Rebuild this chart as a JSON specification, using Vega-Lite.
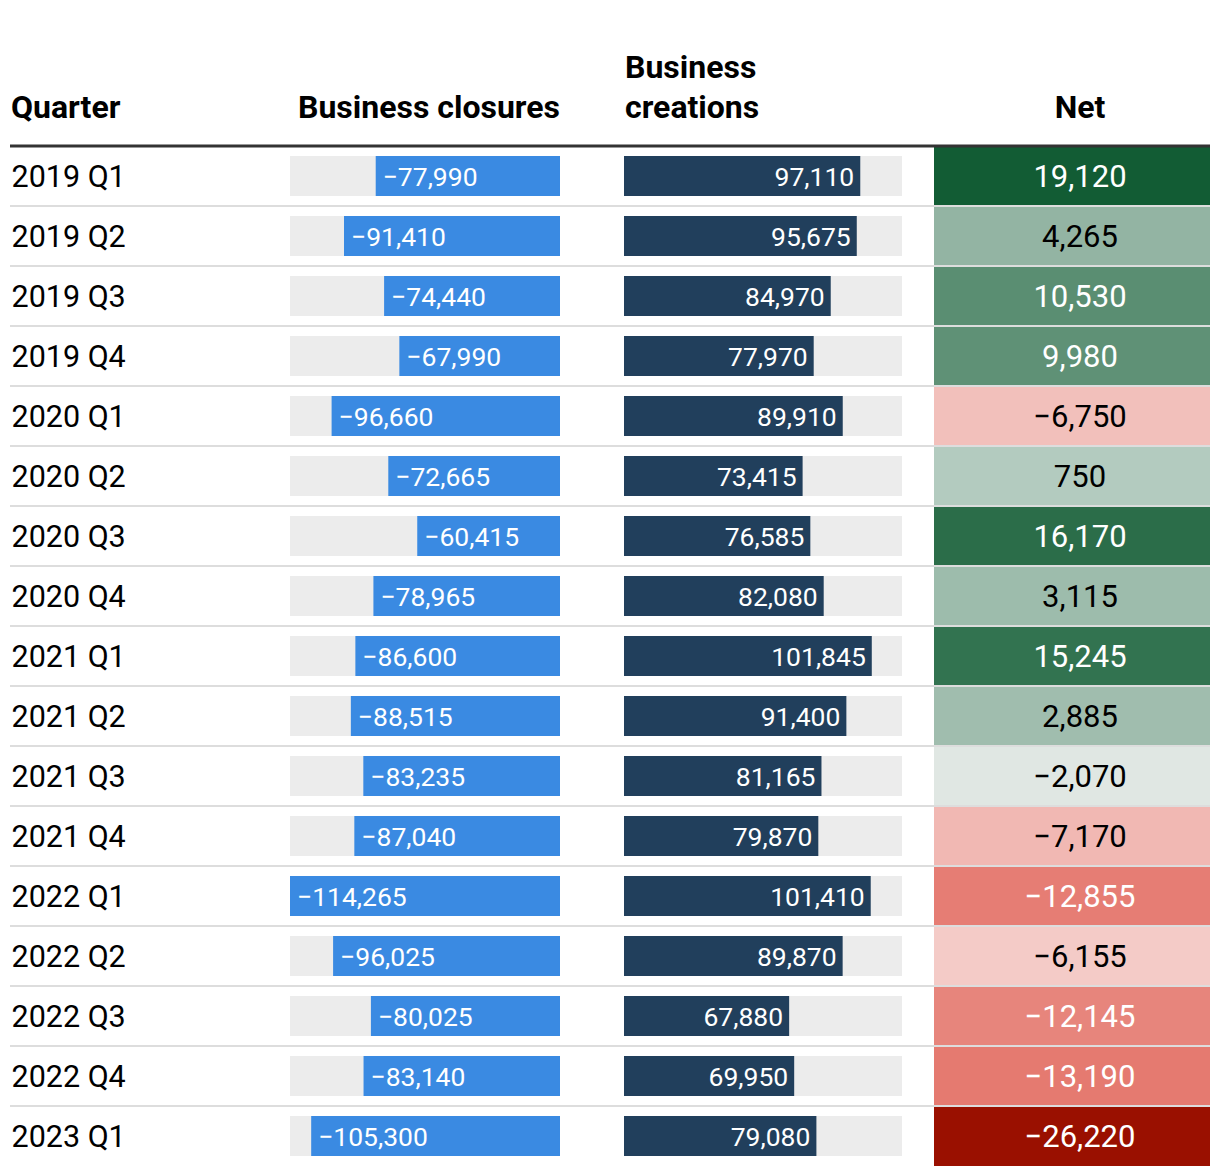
{
  "$schema": "https://vega.github.io/schema/vega-lite/v6.json",
  "padding": {"left": 8, "right": 10, "top": 51, "bottom": 9},
  "background": "white",
  "spacing": 0,
  "bounds": "flush",
  "data": {"values": [
    {"quarter": "2019 Q1", "closures": -77990, "creations": 97110, "net": 19120},
    {"quarter": "2019 Q2", "closures": -91410, "creations": 95675, "net": 4265},
    {"quarter": "2019 Q3", "closures": -74440, "creations": 84970, "net": 10530},
    {"quarter": "2019 Q4", "closures": -67990, "creations": 77970, "net": 9980},
    {"quarter": "2020 Q1", "closures": -96660, "creations": 89910, "net": -6750},
    {"quarter": "2020 Q2", "closures": -72665, "creations": 73415, "net": 750},
    {"quarter": "2020 Q3", "closures": -60415, "creations": 76585, "net": 16170},
    {"quarter": "2020 Q4", "closures": -78965, "creations": 82080, "net": 3115},
    {"quarter": "2021 Q1", "closures": -86600, "creations": 101845, "net": 15245},
    {"quarter": "2021 Q2", "closures": -88515, "creations": 91400, "net": 2885},
    {"quarter": "2021 Q3", "closures": -83235, "creations": 81165, "net": -2070},
    {"quarter": "2021 Q4", "closures": -87040, "creations": 79870, "net": -7170},
    {"quarter": "2022 Q1", "closures": -114265, "creations": 101410, "net": -12855},
    {"quarter": "2022 Q2", "closures": -96025, "creations": 89870, "net": -6155},
    {"quarter": "2022 Q3", "closures": -80025, "creations": 67880, "net": -12145},
    {"quarter": "2022 Q4", "closures": -83140, "creations": 69950, "net": -13190},
    {"quarter": "2023 Q1", "closures": -105300, "creations": 79080, "net": -26220}
  ]},
  "config": {
    "font": "Roboto",
    "view": {"stroke": null},
    "title": {"font": "Roboto", "fontSize": 32, "fontWeight": "bold", "color": "#000000", "baseline": "alphabetic", "offset": 20, "frame": "group", "lineHeight": 40}
  },
  "hconcat": [
    {
      "width": 280, "height": 1020,
      "title": {"text": "Quarter", "anchor": "start", "dx": 1},
      "layer": [
        {
          "mark": {"type": "rule"},
          "encoding": {
            "y": {"field": "quarter", "type": "nominal", "sort": null, "bandPosition": 0,
                  "scale": {"type": "band", "paddingInner": 0, "paddingOuter": 0},
                  "axis": {"title": null, "orient": "left", "domain": false, "ticks": false, "grid": false,
                           "labelAlign": "left", "labelPadding": -1, "labelOffset": 2, "labelFont": "Roboto", "labelFontSize": 30.5, "labelColor": "#000000", "labelBaseline": "middle", "bandPosition": 0.5}},
            "stroke": {"condition": {"test": "datum.quarter == '2019 Q1'", "value": "#333333"}, "value": "#dddddd"},
            "strokeWidth": {"condition": {"test": "datum.quarter == '2019 Q1'", "value": 3}, "value": 2}
          }
        }
      ]
    },
    {
      "width": 270, "height": 1020,
      "title": {"text": "Business closures", "anchor": "end"},
      "encoding": {
        "y": {"field": "quarter", "type": "nominal", "sort": null,
              "scale": {"type": "band", "paddingInner": 0, "paddingOuter": 0}, "axis": null}
      },
      "layer": [
        {
          "mark": {"type": "bar", "color": "#ececec", "height": {"band": 0.667}},
          "encoding": {"x": {"datum": -114265, "type": "quantitative", "scale": {"domain": [-114265, 0]}, "axis": null}}
        },
        {
          "mark": {"type": "bar", "color": "#3a8ae2", "height": {"band": 0.667}},
          "encoding": {"x": {"field": "closures", "type": "quantitative", "scale": {"domain": [-114265, 0]}, "axis": null}}
        },
        {
          "mark": {"type": "text", "align": "left", "baseline": "middle", "dx": 7, "dy": 1.5, "color": "white", "fontSize": 26.5, "font": "Roboto"},
          "encoding": {
            "x": {"field": "closures", "type": "quantitative", "scale": {"domain": [-114265, 0]}, "axis": null},
            "text": {"field": "closures", "type": "quantitative", "format": ","}
          }
        },
        {
          "mark": {"type": "rule"},
          "encoding": {
            "y": {"field": "quarter", "type": "nominal", "sort": null, "bandPosition": 0},
            "stroke": {"condition": {"test": "datum.quarter == '2019 Q1'", "value": "#333333"}, "value": "#dddddd"},
            "strokeWidth": {"condition": {"test": "datum.quarter == '2019 Q1'", "value": 3}, "value": 2}
          }
        }
      ]
    },
    {
      "width": 64, "height": 1020,
      "layer": [
        {
          "mark": {"type": "rule"},
          "encoding": {
            "y": {"field": "quarter", "type": "nominal", "sort": null, "bandPosition": 0,
                  "scale": {"type": "band", "paddingInner": 0, "paddingOuter": 0}, "axis": null},
            "stroke": {"condition": {"test": "datum.quarter == '2019 Q1'", "value": "#333333"}, "value": "#dddddd"},
            "strokeWidth": {"condition": {"test": "datum.quarter == '2019 Q1'", "value": 3}, "value": 2}
          }
        }
      ]
    },
    {
      "width": 278, "height": 1020,
      "title": {"text": ["Business", "creations"], "anchor": "start", "dx": 1},
      "encoding": {
        "y": {"field": "quarter", "type": "nominal", "sort": null,
              "scale": {"type": "band", "paddingInner": 0, "paddingOuter": 0}, "axis": null}
      },
      "layer": [
        {
          "mark": {"type": "bar", "color": "#ececec", "height": {"band": 0.667}},
          "encoding": {"x": {"datum": 114265, "type": "quantitative", "scale": {"domain": [0, 114265]}, "axis": null}}
        },
        {
          "mark": {"type": "bar", "color": "#213f5c", "height": {"band": 0.667}},
          "encoding": {"x": {"field": "creations", "type": "quantitative", "scale": {"domain": [0, 114265]}, "axis": null}}
        },
        {
          "mark": {"type": "text", "align": "right", "baseline": "middle", "dx": -6, "dy": 1.5, "color": "white", "fontSize": 26.5, "font": "Roboto"},
          "encoding": {
            "x": {"field": "creations", "type": "quantitative", "scale": {"domain": [0, 114265]}, "axis": null},
            "text": {"field": "creations", "type": "quantitative", "format": ","}
          }
        },
        {
          "mark": {"type": "rule"},
          "encoding": {
            "y": {"field": "quarter", "type": "nominal", "sort": null, "bandPosition": 0},
            "stroke": {"condition": {"test": "datum.quarter == '2019 Q1'", "value": "#333333"}, "value": "#dddddd"},
            "strokeWidth": {"condition": {"test": "datum.quarter == '2019 Q1'", "value": 3}, "value": 2}
          }
        }
      ]
    },
    {
      "width": 32, "height": 1020,
      "layer": [
        {
          "mark": {"type": "rule"},
          "encoding": {
            "y": {"field": "quarter", "type": "nominal", "sort": null, "bandPosition": 0,
                  "scale": {"type": "band", "paddingInner": 0, "paddingOuter": 0}, "axis": null},
            "stroke": {"condition": {"test": "datum.quarter == '2019 Q1'", "value": "#333333"}, "value": "#dddddd"},
            "strokeWidth": {"condition": {"test": "datum.quarter == '2019 Q1'", "value": 3}, "value": 2}
          }
        }
      ]
    },
    {
      "width": 276, "height": 1020,
      "title": {"text": "Net", "anchor": "middle", "dx": 8},
      "encoding": {
        "y": {"field": "quarter", "type": "nominal", "sort": null,
              "scale": {"type": "band", "paddingInner": 0, "paddingOuter": 0}, "axis": null}
      },
      "layer": [
        {
          "mark": {"type": "bar", "height": {"band": 1}},
          "encoding": {
            "x": {"datum": 1, "type": "quantitative", "scale": {"domain": [0, 1]}, "axis": null},
            "color": {"field": "net", "type": "quantitative", "legend": null,
                      "scale": {"type": "linear", "interpolate": "rgb",
                                "domain": [-26220, -13190, -7170, -6155, -2070, 750, 4265, 10530, 19120],
                                "range": ["#9a1000", "#e57a70", "#f1b8b3", "#f4cbc7", "#e0e7e3", "#b3cbbf", "#93b4a3", "#5a8e72", "#125c34"]}}
          }
        },
        {
          "mark": {"type": "text", "align": "center", "baseline": "middle", "dx": 8, "dy": 2, "fontSize": 31, "font": "Roboto"},
          "encoding": {
            "text": {"field": "net", "type": "quantitative", "format": ","},
            "color": {"condition": {"test": "datum.net > 5000 || datum.net < -10000", "value": "#ffffff"}, "value": "#000000"}
          }
        },
        {
          "mark": {"type": "rule"},
          "encoding": {
            "y": {"field": "quarter", "type": "nominal", "sort": null, "bandPosition": 0},
            "stroke": {"condition": {"test": "datum.quarter == '2019 Q1'", "value": "#333333"}, "value": "#dddddd"},
            "strokeWidth": {"condition": {"test": "datum.quarter == '2019 Q1'", "value": 3}, "value": 2}
          }
        }
      ]
    }
  ],
  "resolve": {"scale": {"color": "independent"}}
}
